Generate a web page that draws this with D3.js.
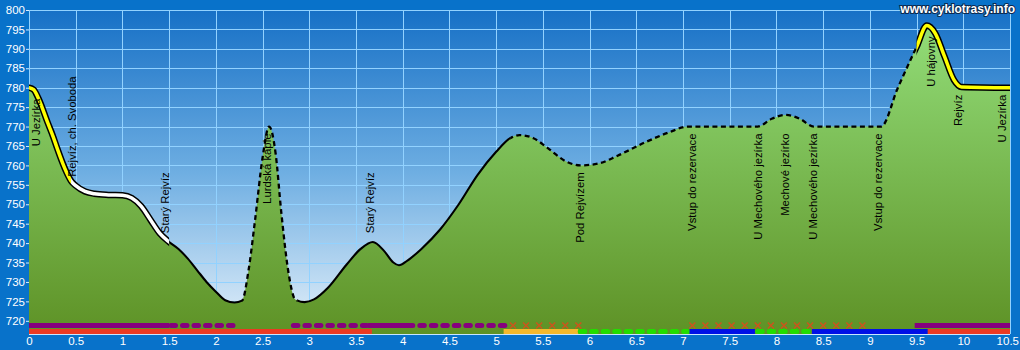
<!DOCTYPE html>
<html>
<head>
<meta charset="utf-8">
<script src="https://cdn.jsdelivr.net/npm/d3@7"></script>
<style>
body { margin: 0; background: #0872ca; }
svg { display: block; }
</style>
</head>
<body>
<svg id="chart" width="1020" height="350"></svg>
<script>
// elevation profile (km, m a.s.l.)
var distKm = [0, 0.05, 0.1, 0.2, 0.26, 0.3, 0.36, 0.4, 0.45, 0.5, 0.6, 0.7, 0.85, 1.0, 1.1, 1.2, 1.3, 1.4, 1.5,
    1.6, 1.7, 1.8, 1.9, 2.0, 2.1, 2.2, 2.28, 2.35, 2.42, 2.5, 2.57, 2.64, 2.7, 2.78, 2.85, 2.95, 3.05, 3.2,
    3.4, 3.55, 3.68, 3.8, 3.9, 3.96, 4.05, 4.2, 4.4, 4.6, 4.8, 5.0, 5.15, 5.25, 5.4, 5.55, 5.75, 5.9, 6.1,
    6.3, 6.6, 6.85, 7.05, 7.8, 7.95, 8.1, 8.25, 8.4, 9.12, 9.3, 9.5, 9.61, 9.7, 9.8, 9.9, 9.98, 10.5];
var elevM = [780, 779.5, 777.3, 771, 767.3, 764.5, 760.6, 758.3, 756, 754.8, 753.3, 752.7, 752.4, 752.3, 751.6, 749.5, 746, 742.5, 740.3,
    738.5, 736, 733, 730, 727.5, 725.3, 724.7, 725.2, 733, 746, 762, 770, 763, 748, 732, 725.5, 724.8, 725.5, 728.5,
    734.5, 738.5, 740.3, 738, 735, 734.3, 735.5, 738.5, 743.5, 750, 757.5, 763.5, 767, 767.8, 767, 764.5, 761, 760, 760.5,
    762.5, 766, 768.5, 770, 770, 772, 773, 772, 770, 770, 780, 790.5, 796, 794, 788, 782, 780.2, 780];

// waypoints
var wpName = ["U Jezírka", "Rejvíz, ch. Svoboda", "Starý Rejvíz", "Lurdská kaple", "Starý Rejvíz", "Pod Rejvízem",
    "Vstup do rezervace", "U Mechového jezírka", "Mechové jezírko", "U Mechového jezírka", "Vstup do rezervace",
    "U hájovny", "Rejvíz", "U Jezírka"];
var wpKm = [0.08, 0.46, 1.46, 2.55, 3.65, 5.9, 7.1, 7.8, 8.09, 8.39, 9.09, 9.66, 9.94, 10.41];
var wpElev = [779, 755, 740.5, 770, 740.5, 760, 770, 770, 770, 770, 770, 795, 780, 780];

// profile line pieces: kind of way
var lineFrom = [0, 0.45, 1.5, 2.28, 2.87, 5.15, 9.5];
var lineTo = [0.45, 1.5, 2.28, 2.87, 5.15, 9.5, 10.5];
var lineKind = ["yellow", "white", "solid", "dashed", "solid", "dashed", "yellow"];

// surface strips under the profile
var barRow = [0, 0, 0, 0, 0, 0, 0, 0, 1, 1, 1, 1, 1, 1, 1];
var barFrom = [0, 1.52, 2.83, 3.63, 4.06, 5.18, 7.1, 9.48, 0, 5.08, 5.9, 7.07, 7.8, 8.38, 9.62];
var barTo = [1.5, 2.22, 3.63, 4.06, 5.12, 5.9, 9.0, 10.5, 3.67, 5.88, 7.05, 7.77, 8.36, 9.62, 10.5];
var barKind = ["purple", "purpleDot", "purpleDot", "purple", "purpleDot", "cross", "cross", "purple",
    "red", "orange", "greenDot", "blue", "greenDot", "blue", "red"];

var xTickLabels = [0, 0.5, 1, 1.5, 2, 2.5, 3, 3.5, 4, 4.5, 5, 5.5, 6, 6.5, 7, 7.5, 8, 8.5, 9, 9.5, 10, 10.5];
var yTickLabels = [720, 725, 730, 735, 740, 745, 750, 755, 760, 765, 770, 775, 780, 785, 790, 795, 800];

var plotLeft = 29, plotRight = 1010, plotTop = 10, plotBottom = 334;
var font = 'Arial, "Liberation Sans", sans-serif';

var svg = d3.select('#chart');
var defs = svg.append('defs');

var x = d3.scaleLinear().domain([0, 10.5]).range([plotLeft, plotRight]);
var y = d3.scaleLinear().domain([720, 800]).range([320.8, plotTop]);

// gradients
var sky = defs.append('linearGradient').attr('id', 'sky')
    .attr('gradientUnits', 'userSpaceOnUse')
    .attr('x1', 0).attr('y1', plotTop).attr('x2', 0).attr('y2', plotBottom);
sky.append('stop').attr('offset', 0).attr('stop-color', '#1670c6');
sky.append('stop').attr('offset', 0.5).attr('stop-color', '#6eaee2');
sky.append('stop').attr('offset', 1).attr('stop-color', '#e6f1fa');

var grass = defs.append('linearGradient').attr('id', 'grass')
    .attr('gradientUnits', 'userSpaceOnUse')
    .attr('x1', 0).attr('y1', plotTop).attr('x2', 0).attr('y2', plotBottom);
grass.append('stop').attr('offset', 0).attr('stop-color', '#94e07c');
grass.append('stop').attr('offset', 1).attr('stop-color', '#5e9226');

svg.append('rect').attr('width', 1020).attr('height', 350).attr('fill', '#0872ca');
svg.append('rect')
    .attr('x', plotLeft).attr('y', plotTop)
    .attr('width', plotRight - plotLeft).attr('height', plotBottom - plotTop)
    .attr('fill', 'url(#sky)');

// grid
var grid = svg.append('g').attr('stroke', '#92d2ff').attr('stroke-width', 1);
grid.selectAll('.h').data(yTickLabels).enter().append('line')
    .attr('x1', plotLeft).attr('x2', plotRight)
    .attr('y1', function(d) { return Math.round(y(d)) + 0.5; })
    .attr('y2', function(d) { return Math.round(y(d)) + 0.5; });
grid.selectAll('.v').data(xTickLabels).enter().append('line')
    .attr('y1', plotTop).attr('y2', plotBottom)
    .attr('x1', function(d) { return Math.round(x(d)) + 0.5; })
    .attr('x2', function(d) { return Math.round(x(d)) + 0.5; });

var profile = distKm.map(function(d, i) { return { km: d, ele: elevM[i] }; });

var area = d3.area()
    .x(function(d) { return x(d.km); })
    .y0(plotBottom)
    .y1(function(d) { return y(d.ele); })
    .curve(d3.curveMonotoneX);

var line = d3.line()
    .x(function(d) { return x(d.km); })
    .y(function(d) { return y(d.ele); })
    .curve(d3.curveMonotoneX);

svg.append('path').datum(profile).attr('d', area).attr('fill', 'url(#grass)');

// profile line, each piece clipped to its km range
lineKind.forEach(function(kind, i) {
    var id = 'clip' + i;
    defs.append('clipPath').attr('id', id).append('rect')
        .attr('x', x(lineFrom[i])).attr('y', 0)
        .attr('width', x(lineTo[i]) - x(lineFrom[i])).attr('height', 350);
    var g = svg.append('g').attr('clip-path', 'url(#' + id + ')');
    if (kind == 'yellow' || kind == 'white') {
        g.append('path').datum(profile).attr('d', line)
            .attr('fill', 'none').attr('stroke', '#000').attr('stroke-width', 6.5)
            .attr('stroke-linejoin', 'round').attr('stroke-linecap', 'round');
        g.append('path').datum(profile).attr('d', line)
            .attr('fill', 'none').attr('stroke', kind == 'yellow' ? '#ffff00' : '#ffffff').attr('stroke-width', 3.5)
            .attr('stroke-linejoin', 'round').attr('stroke-linecap', 'round');
    } else {
        g.append('path').datum(profile).attr('d', line)
            .attr('fill', 'none').attr('stroke', '#000')
            .attr('stroke-width', kind == 'dashed' ? 2.3 : 2.1)
            .attr('stroke-dasharray', kind == 'dashed' ? '5,3.5' : null)
            .attr('stroke-linejoin', 'round');
    }
});

// strips
var rowY = [325.5, 331.5];
var barColor = { purple: '#86007e', purpleDot: '#86007e', red: '#ec3a22', orange: '#f4b82c',
    greenDot: '#22dd00', blue: '#0010e6' };
var strips = svg.append('g');
barKind.forEach(function(kind, i) {
    var yy = rowY[barRow[i]];
    if (kind == 'cross') {
        var marks = d3.range(barFrom[i], barTo[i] + 0.001, 0.14);
        strips.selectAll(null).data(marks).enter().append('path')
            .attr('d', function(d) {
                var cx = x(d), s = 3;
                return 'M' + (cx - s) + ',' + (yy - s) + 'L' + (cx + s) + ',' + (yy + s) +
                    'M' + (cx - s) + ',' + (yy + s) + 'L' + (cx + s) + ',' + (yy - s);
            })
            .attr('stroke', '#cc561c').attr('stroke-width', 1.5).attr('fill', 'none');
        return;
    }
    var dotted = kind.indexOf('Dot') > 0;
    strips.append('line')
        .attr('x1', x(barFrom[i])).attr('x2', x(barTo[i]))
        .attr('y1', yy).attr('y2', yy)
        .attr('stroke', barColor[kind])
        .attr('stroke-width', 5)
        .attr('stroke-linecap', dotted ? 'round' : 'butt')
        .attr('stroke-dasharray', dotted ? '4.5,7' : null);
});

// bottom border line
svg.append('line').attr('x1', plotLeft).attr('x2', plotRight)
    .attr('y1', plotBottom + 0.5).attr('y2', plotBottom + 0.5)
    .attr('stroke', '#c8e6ff').attr('stroke-width', 1);

// waypoint labels
var labels = svg.append('g')
    .style('font-family', font)
    .style('font-size', '11.3px')
    .attr('fill', '#000');
wpName.forEach(function(name, i) {
    var px = x(wpKm[i]), py = y(wpElev[i]);
    var t = labels.append('text').attr('dy', '0.35em').text(name);
    var len = t.node().getComputedTextLength();
    if (py + 7 + len > 262) {
        t.attr('text-anchor', 'start').attr('transform', 'translate(' + px + ',' + (py - 8) + ') rotate(-90)');
    } else {
        t.attr('text-anchor', 'end').attr('transform', 'translate(' + px + ',' + (py + 7) + ') rotate(-90)');
    }
});

// axes
var yAxis = svg.append('g')
    .attr('transform', 'translate(' + plotLeft + ',0)')
    .call(d3.axisLeft(y).tickValues(yTickLabels).tickSize(3).tickPadding(1));
var xAxis = svg.append('g')
    .attr('transform', 'translate(0,' + plotBottom + ')')
    .call(d3.axisBottom(x).tickValues(xTickLabels).tickSize(0).tickPadding(3)
        .tickFormat(function(d) { return String(d); }));
[yAxis, xAxis].forEach(function(ax) {
    ax.select('.domain').remove();
    ax.selectAll('line').attr('stroke', '#d8eeff');
    ax.selectAll('text').attr('fill', '#fff')
        .style('font-family', font)
        .style('font-size', '11.5px');
});
// keep the last km label inside the picture
xAxis.selectAll('.tick text').filter(function(d) { return d == 10.5; })
    .attr('text-anchor', 'end').attr('x', 8.5);

// watermark
svg.append('text')
    .attr('x', 1015).attr('y', 13)
    .attr('text-anchor', 'end')
    .style('font-family', font)
    .style('font-size', '12px')
    .style('font-weight', 'bold')
    .attr('fill', '#fff')
    .attr('stroke', '#0b2a50').attr('stroke-width', 2)
    .attr('paint-order', 'stroke')
    .text('www.cyklotrasy.info');
</script>
</body>
</html>
